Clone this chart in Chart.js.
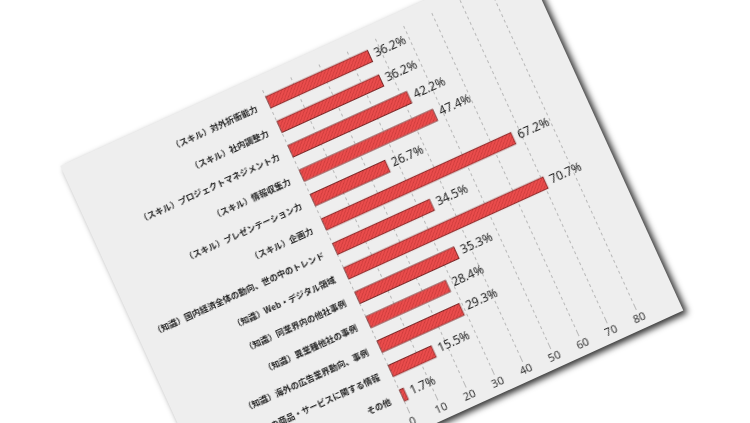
<!DOCTYPE html>
<html>
<head>
<meta charset="utf-8">
<script src="https://cdn.jsdelivr.net/npm/chart.js@4/dist/chart.umd.min.js"></script>
<style>
  html, body { margin:0; padding:0; background:#ffffff; width:750px; height:423px; overflow:hidden; }
  #rot { position:absolute; left:0; top:0; transform-origin:0 0; transform:rotate(-24.5deg); }
  #panel { position:absolute; left:-14px; top:176px; width:507px; height:390px; background:#eeeeee;
           box-shadow: 3px 4px 6px rgba(0,0,0,0.8); }
  canvas { display:block; }
</style>
</head>
<body>
<div id="rot"><div id="panel"><canvas id="c" width="507" height="390"></canvas></div></div>
<script>
const categories = [
  "（スキル）対外折衝能力",
  "（スキル）社内調整力",
  "（スキル）プロジェクトマネジメント力",
  "（スキル）情報収集力",
  "（スキル）プレゼンテーション力",
  "（スキル）企画力",
  "（知識）国内経済全体の動向、世の中のトレンド",
  "（知識）Web・デジタル領域",
  "（知識）同業界内の他社事例",
  "（知識）異業種他社の事例",
  "（知識）海外の広告業界動向、事例",
  "（知識）自社の商品・サービスに関する情報",
  "その他"
];
const values = [36.2, 36.2, 42.2, 47.4, 26.7, 67.2, 34.5, 70.7, 35.3, 28.4, 29.3, 15.5, 1.7];
const xTicks = [0, 10, 20, 30, 40, 50, 60, 70, 80];

const FONT = '"Noto Sans CJK JP", "Noto Sans", sans-serif';
const NUMFONT = '"Liberation Sans Narrow", "Noto Sans", sans-serif';

// hatched red fill
const pc = document.createElement('canvas');
pc.width = 4; pc.height = 4;
const px = pc.getContext('2d');
px.fillStyle = '#ea4c4c';
px.fillRect(0, 0, 4, 4);
px.strokeStyle = 'rgba(170,40,40,0.5)';
px.lineWidth = 1;
px.beginPath();
px.moveTo(-1, 5); px.lineTo(5, -1);
px.stroke();
const ctx0 = document.getElementById('c').getContext('2d');
const hatch = ctx0.createPattern(pc, 'repeat');

const valueLabels = {
  id: 'valueLabels',
  afterDatasetsDraw(chart) {
    const ctx = chart.ctx;
    const meta = chart.getDatasetMeta(0);
    ctx.save();
    ctx.font = '12px ' + NUMFONT;
    ctx.fillStyle = '#222222';
    ctx.textAlign = 'left';
    ctx.textBaseline = 'middle';
    meta.data.forEach((bar, i) => {
      ctx.fillText(values[i].toFixed(1) + '%', bar.x + 5, bar.y);
    });
    ctx.restore();
  }
};

new Chart(ctx0, {
  type: 'bar',
  data: {
    labels: categories,
    datasets: [{
      data: values,
      backgroundColor: hatch,
      borderColor: '#7a2a2a',
      borderWidth: 1,
      borderSkipped: false,
      barThickness: 13
    }]
  },
  options: {
    indexAxis: 'y',
    responsive: false,
    animation: false,
    devicePixelRatio: 1,
    layout: { padding: { left: 0, right: 43, top: 15, bottom: 0 } },
    plugins: { legend: { display: false }, tooltip: { enabled: false } },
    scales: {
      x: {
        min: 0, max: 80,
        afterBuildTicks(scale) { scale.ticks = xTicks.map(v => ({ value: v })); },
        afterFit(scale) { scale.height = 26; },
        grid: { color: '#b8b8b8', lineWidth: 1, drawTicks: true, tickLength: 6 },
        border: { display: false, dash: [3, 3] },
        ticks: { font: { size: 11, family: NUMFONT }, color: '#333333', padding: 2, maxRotation: 0 }
      },
      y: {
        afterFit(scale) { scale.width = 215; },
        grid: { display: false },
        border: { display: false },
        ticks: { font: { size: 8.5, family: FONT, weight: 'bold' }, color: '#222222', padding: 4, autoSkip: false }
      }
    }
  },
  plugins: [valueLabels]
});
</script>
</body>
</html>
